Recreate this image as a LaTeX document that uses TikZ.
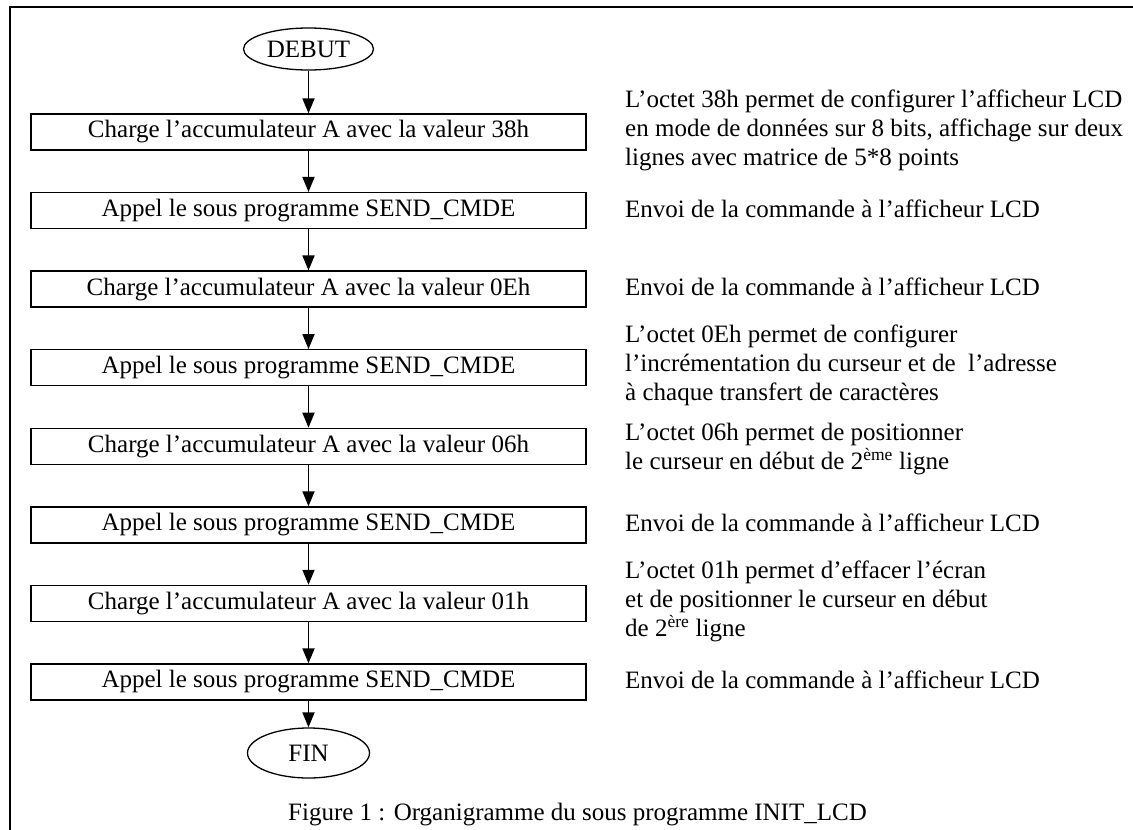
\documentclass[tikz,border=0pt]{standalone}
\usepackage{fontspec}
\setmainfont{Liberation Serif}
\usetikzlibrary{arrows.meta,shapes.geometric}

\begin{document}
\begin{tikzpicture}[x=1pt,y=-1pt,
  every node/.style={font=\fontsize{25}{29}\selectfont},
  stepbox/.style={draw,line width=1.3pt,minimum width=555pt,minimum height=36pt,inner sep=0pt},
  termnode/.style={draw,ellipse,line width=1.3pt,inner sep=0pt},
  flow/.style={line width=1.8pt,-{Triangle[width=12pt,length=15pt]}},
  note/.style={anchor=west,align=left,inner sep=0pt},
]
  \useasboundingbox (0,0) rectangle (1133,830);
  \clip (0,0) rectangle (1133,830);

  % page frame (runs past the right and bottom edges)
  \draw[line width=2pt] (10,7) rectangle (1150,850);

  % terminals
  \node[termnode,minimum width=130pt,minimum height=42pt] (debut) at (308.5,49) {DEBUT};
  \node[termnode,minimum width=122pt,minimum height=50pt] (fin) at (308.5,753) {FIN};

  % processing steps
  \node[stepbox] (b1) at (308.5,132.0) {Charge l’accumulateur A avec la valeur 38h};
  \node[stepbox] (b2) at (308.5,210.6) {Appel le sous programme SEND\_CMDE};
  \node[stepbox] (b3) at (308.5,289.1) {Charge l’accumulateur A avec la valeur 0Eh};
  \node[stepbox] (b4) at (308.5,367.7) {Appel le sous programme SEND\_CMDE};
  \node[stepbox] (b5) at (308.5,446.3) {Charge l’accumulateur A avec la valeur 06h};
  \node[stepbox] (b6) at (308.5,524.9) {Appel le sous programme SEND\_CMDE};
  \node[stepbox] (b7) at (308.5,603.4) {Charge l’accumulateur A avec la valeur 01h};
  \node[stepbox] (b8) at (308.5,682.0) {Appel le sous programme SEND\_CMDE};

  % flow arrows
  \draw[flow] (debut) -- (b1);
  \draw[flow] (b1) -- (b2);
  \draw[flow] (b2) -- (b3);
  \draw[flow] (b3) -- (b4);
  \draw[flow] (b4) -- (b5);
  \draw[flow] (b5) -- (b6);
  \draw[flow] (b6) -- (b7);
  \draw[flow] (b7) -- (b8);
  \draw[flow] (b8) -- (fin);

  % comments beside each step
  \node[note] (n1) at (625,130) {L’octet 38h permet de configurer l’afficheur LCD\\en mode de données sur 8 bits, affichage sur deux\\lignes avec matrice de 5*8 points};
  \node[note] (n2) at (625,208.6) {Envoi de la commande à l’afficheur LCD};
  \node[note] (n3) at (625,287.1) {Envoi de la commande à l’afficheur LCD};
  \node[note] (n4) at (625,365.7) {L’octet 0Eh permet de configurer\\l’incrémentation du curseur et de\ \ l’adresse\\à chaque transfert de caractères};
  \node[note] (n5) at (625,449) {L’octet 06h permet de positionner\\le curseur en début de 2\textsuperscript{ème} ligne};
  \node[note] (n6) at (625,522.9) {Envoi de la commande à l’afficheur LCD};
  \node[note] (n7) at (625,601.4) {L’octet 01h permet d’effacer l’écran\\et de positionner le curseur en début\\de 2\textsuperscript{ère} ligne};
  \node[note] (n8) at (625,680.0) {Envoi de la commande à l’afficheur LCD};

  % caption
  \node[note] (cap) at (288,815) {Figure 1 : Organigramme du sous programme INIT\_LCD};
\end{tikzpicture}
\end{document}
